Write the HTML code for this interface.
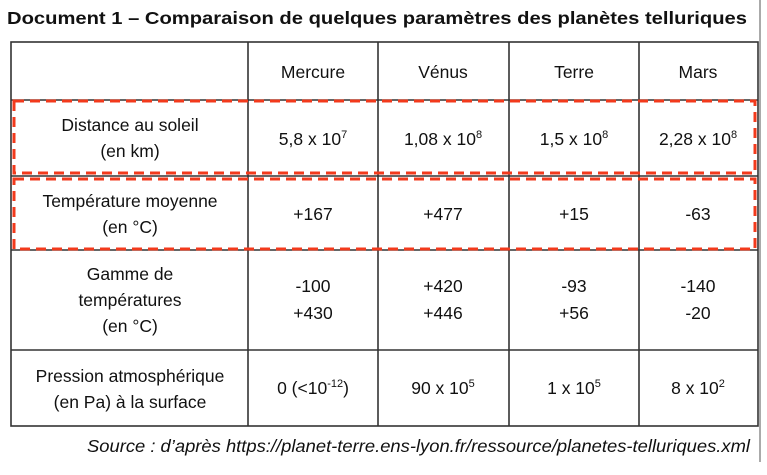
<!DOCTYPE html>
<html><head><meta charset="utf-8"><style>
html,body{margin:0;padding:0;background:#fff;}
svg{display:block;}
text{font-family:"Liberation Sans",Arial,sans-serif;fill:#111;font-size:17.5px;}
</style></head><body>
<svg width="767" height="475" viewBox="0 0 767 475" xmlns="http://www.w3.org/2000/svg">
<text x="7" y="24" font-weight="bold" font-size="20" textLength="740" lengthAdjust="spacingAndGlyphs">Document 1 – Comparaison de quelques paramètres des planètes telluriques</text>
<line x1="760" y1="0" x2="760" y2="462" stroke="#555" stroke-width="1"/>
<g stroke="#333" stroke-width="1.6" fill="none">
<rect x="11" y="42" width="747" height="384"/>
<line x1="248" y1="42" x2="248" y2="426"/>
<line x1="378" y1="42" x2="378" y2="426"/>
<line x1="509" y1="42" x2="509" y2="426"/>
<line x1="639" y1="42" x2="639" y2="426"/>
<line x1="11" y1="100" x2="758" y2="100"/>
<line x1="11" y1="176" x2="758" y2="176"/>
<line x1="11" y1="250" x2="758" y2="250"/>
<line x1="11" y1="350" x2="758" y2="350"/>
</g>
<g stroke="#f23a1c" stroke-width="3" fill="none" stroke-dasharray="10,6">
<rect x="14" y="101" width="741" height="72"/>
<rect x="14" y="179" width="741" height="70"/>
</g>
<g text-anchor="middle">
<text x="313" y="78">Mercure</text>
<text x="443" y="78">Vénus</text>
<text x="574" y="78">Terre</text>
<text x="698" y="78">Mars</text>
<text x="130" y="131">Distance au soleil</text>
<text x="130" y="157">(en km)</text>
<text x="313" y="145">5,8 x 10<tspan font-size="11" dy="-7">7</tspan></text>
<text x="443" y="145">1,08 x 10<tspan font-size="11" dy="-7">8</tspan></text>
<text x="574" y="145">1,5 x 10<tspan font-size="11" dy="-7">8</tspan></text>
<text x="698" y="145">2,28 x 10<tspan font-size="11" dy="-7">8</tspan></text>
<text x="130" y="207">Température moyenne</text>
<text x="130" y="233">(en °C)</text>
<text x="313" y="220">+167</text>
<text x="443" y="220">+477</text>
<text x="574" y="220">+15</text>
<text x="698" y="220">-63</text>
<text x="130" y="280">Gamme de</text>
<text x="130" y="306">températures</text>
<text x="130" y="332">(en °C)</text>
<text x="313" y="292">-100</text><text x="313" y="319">+430</text>
<text x="443" y="292">+420</text><text x="443" y="319">+446</text>
<text x="574" y="292">-93</text><text x="574" y="319">+56</text>
<text x="698" y="292">-140</text><text x="698" y="319">-20</text>
<text x="130" y="382">Pression atmosphérique</text>
<text x="130" y="408">(en Pa) à la surface</text>
<text x="313" y="394">0 (&lt;10<tspan font-size="11" dy="-7">-12</tspan><tspan dy="7">)</tspan></text>
<text x="443" y="394">90 x 10<tspan font-size="11" dy="-7">5</tspan></text>
<text x="574" y="394">1 x 10<tspan font-size="11" dy="-7">5</tspan></text>
<text x="698" y="394">8 x 10<tspan font-size="11" dy="-7">2</tspan></text>
</g>
<text x="87" y="452" font-style="italic" font-size="18" textLength="663" lengthAdjust="spacingAndGlyphs">Source : d’après https://planet-terre.ens-lyon.fr/ressource/planetes-telluriques.xml</text>
</svg>
</body></html>
